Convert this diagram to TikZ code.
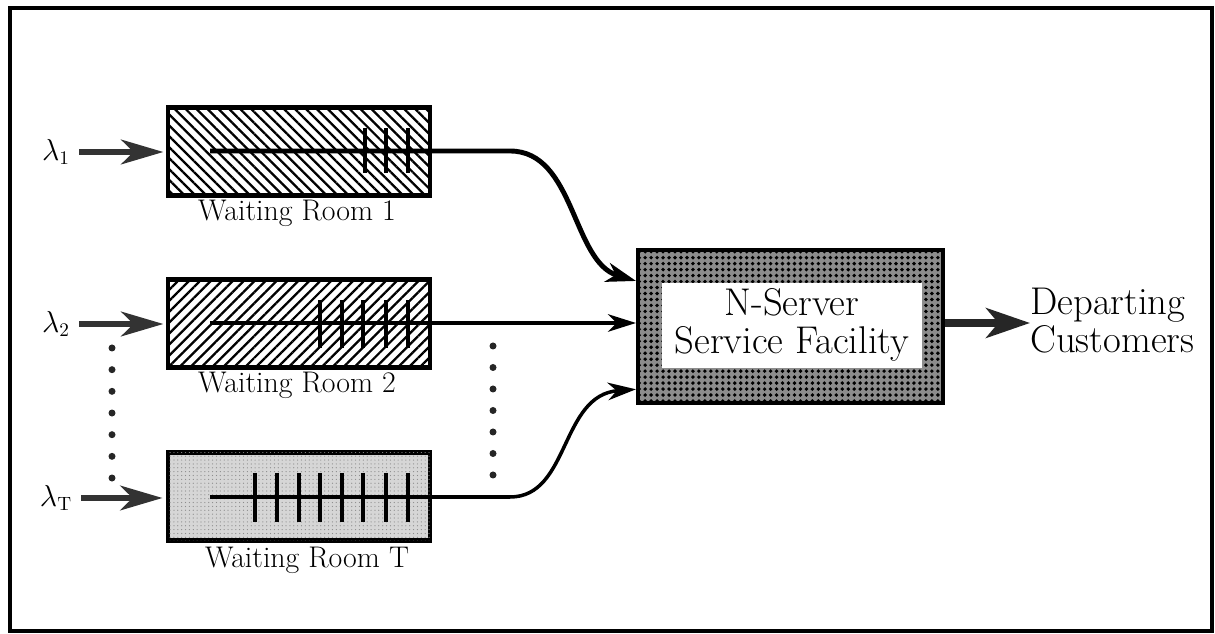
\documentclass[tikz,border=0pt]{standalone}
\usetikzlibrary{arrows.meta,patterns.meta,calc}
\begin{document}
\begin{tikzpicture}[x=0.02cm,y=-0.02cm,
  room/.style={draw, line width=2.3pt, minimum width=5.24cm, minimum height=1.76cm, inner sep=0pt},
  lbl/.style={font=\fontsize{17}{20}\selectfont, inner sep=0pt},
  big/.style={font=\fontsize{22}{21.5}\selectfont, inner sep=0pt},
  lam/.style={font=\fontsize{16}{18}\selectfont, inner sep=0pt},
  inarr/.style={line width=3.4pt, black!80, -{Stealth[length=24pt,width=14pt,inset=7pt]}},
  outarr/.style={line width=4pt, black!85, -{Stealth[length=25pt,width=17pt,inset=7pt]}},
  flow/.style={line width=2pt, -{Stealth[length=16pt,width=10pt,inset=5pt]}},
  flowthick/.style={line width=2.8pt, -{Stealth[length=17pt,width=11pt,inset=5pt]}},
  tk/.style={line width=2.4pt},
  qdot/.style={fill=black!85}
]
\useasboundingbox (0,0) rectangle (1215,634);
\draw[line width=1.8pt] (10,8) rectangle (1212,631);

% waiting rooms
\node[room, pattern={Lines[angle=-45,distance=4.4pt,line width=1.3pt]}] (r1) at (299,151.5) {};
\node[room, pattern={Lines[angle=45,distance=4.4pt,line width=1.3pt]}] (r2) at (299,323.5) {};
\node[room, fill=black!16, postaction={pattern={Dots[distance=2.2pt,radius=0.35pt]}, pattern color=black!45}] (rT) at (299,496.5) {};

\node[lbl] (w1) at (297,213) {Waiting Room 1};
\node[lbl] (w2) at (297,385) {Waiting Room 2};
\node[lbl] (wT) at (307,560) {Waiting Room T};

% server
\node[draw, line width=2.3pt, minimum width=6.1cm, minimum height=3.06cm, inner sep=0pt,
      fill=black!45, postaction={pattern={Dots[distance=3.4pt,radius=1.1pt]}}] (srv) at (790.5,326.5) {};
\node[fill=white, minimum width=5.2cm, minimum height=1.7cm, inner sep=0pt] (srvin) at (792,325.5) {};
\node[big, align=center] (srvtxt) at (792,325) {N-Server\\Service Facility};

% departing
\node[big, align=left, anchor=west] (dep) at (1030,321) {Departing\\Customers};
\coordinate (o1) at (srv.east|-0,323);
\draw[outarr] (o1) -- (o1-|dep.west);

% arrival rates
\node[lam] (l1) at (56,152) {$\lambda_1$};
\node[lam] (l2) at (56,324) {$\lambda_2$};
\node[lam] (lT) at (56,498) {$\lambda_{\mathrm{T}}$};
\draw[inarr, shorten <=5pt, shorten >=2pt] (l1.east) -- (l1.east-|r1.west);
\draw[inarr, shorten <=5pt, shorten >=2pt] (l2.east) -- (l2.east-|r2.west);
\draw[inarr, shorten <=5pt, shorten >=2pt] (lT.east) -- (lT.east-|rT.west);

% queue lines and flows into server
\coordinate (q1) at (210,151);
\coordinate (q2) at (210,323);
\coordinate (qT) at (210,497);
\coordinate (s1) at ($(srv.north west)!0.21!(srv.south west)$);
\coordinate (s2) at (srv.west|-q2);
\coordinate (sT) at ($(srv.north west)!0.90!(srv.south west)$);
\draw[flowthick] (q1) -- (510,151) .. controls (575,151) and (572,262) .. (s1);
\draw[flow] (q2) -- (s2);
\draw[flow] (qT) -- (510,497) .. controls (570,497) and (560,395) .. (sT);

% customers (ticks)
\foreach \x in {365,386,408} \draw[tk] (\x,128) -- (\x,173);
\foreach \x in {320,342,363,386,408} \draw[tk] (\x,300) -- (\x,348);
\foreach \x in {255,277,299,320,342,363,386,408} \draw[tk] (\x,473) -- (\x,522);

% ellipsis dots
\foreach \k in {0,...,6} \fill[qdot] (112,348+21.67*\k) circle[radius=0.07cm];
\foreach \k in {0,...,6} \fill[qdot] (493,346+21.5*\k) circle[radius=0.07cm];
\end{tikzpicture}
\end{document}
